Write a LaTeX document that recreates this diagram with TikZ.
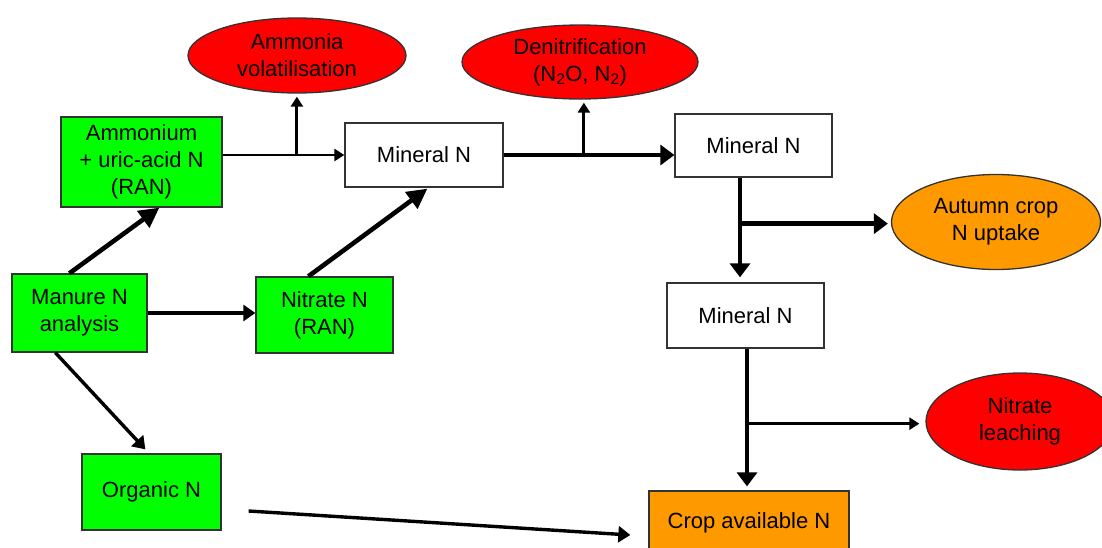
\documentclass[tikz,border=0pt]{standalone}
\usepackage{fontspec}
\setmainfont{Liberation Sans}
\usetikzlibrary{shapes.geometric,arrows.meta,calc}
\definecolor{boxgreen}{HTML}{00FF00}
\definecolor{ellred}{HTML}{FF0000}
\definecolor{ellorange}{HTML}{FF9900}
\definecolor{edge}{HTML}{333333}
\tikzset{
  lbl/.style={font=\fontsize{22}{27}\selectfont, align=center, text=black},
  box/.style={lbl, draw=edge, line width=1.3pt, rectangle, inner sep=0pt},
  gbox/.style={box, fill=boxgreen},
  wbox/.style={box, fill=white},
  obox/.style={box, fill=ellorange},
  ell/.style={lbl, draw=edge, line width=1.3pt, ellipse, inner sep=0pt},
  thickarr/.style={line width=4.6pt, -{Triangle[length=14pt,width=20pt]}},
  medarr/.style={line width=3.4pt, -{Triangle[length=12pt,width=16pt]}},
  thinarr/.style={line width=2.8pt, -{Triangle[length=10pt,width=12pt]}},
  bigarr/.style={line width=4.6pt, -{Triangle[length=20pt,width=20pt]}},
}
\begin{document}
\begin{tikzpicture}[x=1pt,y=-1pt]
\useasboundingbox (0,0) rectangle (1102,547);
\clip (0,0) rectangle (1102,547);
\fill[white] (0,0) rectangle (1102,547);

% nodes
\node[gbox, minimum width=161pt, minimum height=90pt] (amm) at (141.5,162) {Ammonium\\+ uric-acid N\\(RAN)};
\node[wbox, minimum width=158pt, minimum height=64pt] (min1) at (424,155) {Mineral N};
\node[wbox, minimum width=157pt, minimum height=63pt] (min2) at (753.5,145.5) {Mineral N};
\node[wbox, minimum width=157pt, minimum height=65pt] (min3) at (745.5,315.5) {Mineral N};
\node[gbox, minimum width=135pt, minimum height=78pt] (manure) at (79.5,313) {Manure N\\analysis};
\node[gbox, minimum width=137pt, minimum height=76pt] (nitrate) at (324.5,315) {Nitrate N\\(RAN)};
\node[gbox, minimum width=139pt, minimum height=76pt] (organic) at (151.5,492) {Organic N};
\node[obox, minimum width=200pt, minimum height=64pt] (crop) at (749,523) {Crop available N};

\node[ell, fill=ellred, minimum width=218pt, minimum height=75pt] (ammonia) at (297,55.5) {Ammonia\\volatilisation};
\node[ell, fill=ellred, minimum width=236pt, minimum height=74pt] (denit) at (580,62) {Denitrification\\(N\textsubscript{2}O, N\textsubscript{2})};
\node[ell, fill=ellorange, minimum width=209pt, minimum height=95pt] (autumn) at (996,222) {Autumn crop\\N uptake};
\node[ell, fill=ellred, minimum width=188pt, minimum height=97pt] (leach) at (1020,421.5) {Nitrate\\leaching};

% connectors
\draw[thinarr] (amm.east |- min1.west) -- (min1.west);
\coordinate (b1) at ($(amm.east |- min1.west)!0.61!(min1.west)$);
\draw[thinarr, shorten >=3pt] (b1) -- (b1 |- ammonia.south);

\draw[thickarr] (min1.east) -- (min1.east -| min2.west);
\coordinate (b2) at ($(min1.east)!0.47!(min1.east -| min2.west)$);
\draw[thinarr, shorten >=3pt] (b2) -- (b2 |- denit.south);

\coordinate (v2) at ($(min2.south)+(-13.5,0)$);
\draw[thickarr, shorten >=5pt] (v2) -- (v2 |- min3.north);
\coordinate (b3) at ($(v2)+(0,46)$);
\draw[thickarr, shorten >=3pt] (b3) -- (b3 -| autumn.west);

\coordinate (v3) at ($(min3.south)+(1.5,0)$);
\draw[thickarr, shorten >=4pt] (v3) -- (v3 |- crop.north);
\coordinate (b4) at ($(v3)+(0,75)$);
\draw[thinarr, shorten >=6pt] (b4) -- (b4 -| leach.west);

\draw[bigarr] ($(manure.north west)+(58,0)$) -- ($(amm.south west)+(99,0)$);
\draw[bigarr] ($(nitrate.north west)+(53,0)$) -- ($(min1.south west)+(83,1)$);
\draw[medarr] (manure.east) -- (manure.east -| nitrate.west);
\draw[medarr] ($(manure.south west)+(44,0)$) -- ($(organic.north west)+(64,-4)$);
\draw[medarr] ($(organic.east)+(27,19)$) -- ($(crop.west)+(-18,12)$);
\end{tikzpicture}
\end{document}
